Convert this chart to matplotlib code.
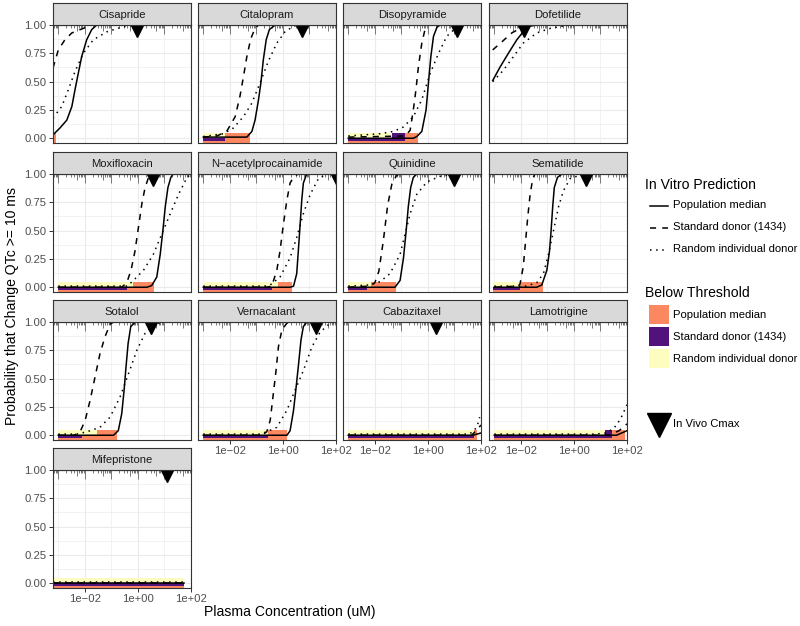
import numpy as np
import matplotlib
matplotlib.use("Agg")
import matplotlib.pyplot as plt
from matplotlib.patches import Rectangle
from matplotlib.lines import Line2D
from matplotlib.ticker import NullFormatter

plt.rcParams["font.family"] = ["Liberation Sans", "DejaVu Sans"]

# ---- data (log10 concentration in uM, probability) ----
drugs = ["Cisapride", "Citalopram", "Disopyramide", "Dofetilide",
         "Moxifloxacin", "N\u2212acetylprocainamide", "Quinidine", "Sematilide",
         "Sotalol", "Vernacalant", "Cabazitaxel", "Lamotrigine", "Mifepristone"]

cisapride_median = [(-3.2, 0.03), (-2.94, 0.09), (-2.68, 0.16), (-2.49, 0.28), (-2.37, 0.43), (-2.25, 0.57),
                    (-2.12, 0.72), (-1.93, 0.87), (-1.74, 0.96), (-1.55, 1.0), (2.0, 1.0)]
cisapride_standard = [(-3.2, 0.62), (-3.0, 0.78), (-2.75, 0.87), (-2.49, 0.93), (-2.06, 0.97), (-1.74, 1.0), (2.0, 1.0)]
cisapride_random = [(-3.2, 0.18), (-2.87, 0.28), (-2.62, 0.43), (-2.37, 0.59), (-2.06, 0.75), (-1.68, 0.87),
                    (-1.17, 0.94), (-0.55, 0.985), (-0.1, 1.0), (2.0, 1.0)]

citalopram_median = [(-3.0, 0.01), (-1.36, 0.01), (-1.17, 0.06), (-1.05, 0.16), (-0.92, 0.34), (-0.83, 0.49),
                     (-0.74, 0.69), (-0.63, 0.87), (-0.51, 0.96), (-0.29, 1.0), (2.0, 1.0)]
citalopram_standard = [(-3.0, 0.01), (-2.49, 0.02), (-2.12, 0.06), (-1.80, 0.19), (-1.62, 0.37), (-1.49, 0.54),
                       (-1.36, 0.72), (-1.21, 0.88), (-1.05, 0.97), (-0.92, 1.0), (2.0, 1.0)]
citalopram_random = [(-3.0, 0.015), (-2.24, 0.04), (-1.87, 0.09), (-1.49, 0.19), (-1.17, 0.31), (-0.86, 0.49),
                     (-0.55, 0.68), (-0.23, 0.84), (0.08, 0.94), (0.40, 0.99), (0.6, 1.0), (2.0, 1.0)]

disopyramide_median = [(-3.0, 0.0), (-0.55, 0.0), (-0.42, 0.015), (-0.23, 0.06), (-0.07, 0.25), (0.02, 0.49),
                       (0.11, 0.72), (0.21, 0.90), (0.34, 0.98), (0.46, 1.0), (2.0, 1.0)]
disopyramide_standard = [(-3.0, 0.01), (-0.86, 0.02), (-0.67, 0.07), (-0.55, 0.25), (-0.45, 0.43), (-0.36, 0.63),
                         (-0.23, 0.84), (-0.11, 0.96), (0.02, 1.0), (2.0, 1.0)]
disopyramide_random = [(-3.0, 0.02), (-1.8, 0.04), (-1.30, 0.06), (-0.92, 0.10), (-0.55, 0.19), (-0.23, 0.34),
                       (0.08, 0.57), (0.40, 0.75), (0.71, 0.90), (1.03, 0.97), (1.34, 1.0), (2.0, 1.0)]

dofetilide_median = [(-3.06, 0.51), (-2.78, 0.63), (-2.47, 0.75), (-2.15, 0.87), (-1.91, 0.94), (-1.65, 0.99),
                     (-1.4, 1.0), (2.0, 1.0)]
dofetilide_standard = [(-3.06, 0.78), (-2.72, 0.85), (-2.34, 0.93), (-2.03, 0.97), (-1.7, 1.0), (2.0, 1.0)]
dofetilide_random = [(-3.06, 0.50), (-2.66, 0.60), (-2.28, 0.72), (-1.91, 0.84), (-1.40, 0.93), (-0.90, 0.97),
                     (-0.27, 0.995), (0.3, 1.0), (2.0, 1.0)]

moxifloxacin_median = [(-3.0, 0.0), (0.34, 0.0), (0.52, 0.015), (0.71, 0.09), (0.84, 0.29), (0.94, 0.50),
                       (1.03, 0.71), (1.13, 0.88), (1.24, 0.97), (1.33, 1.0), (2.0, 1.0)]
moxifloxacin_standard = [(-3.0, 0.0), (-0.61, 0.0), (-0.42, 0.04), (-0.26, 0.15), (-0.11, 0.32), (0.02, 0.53),
                         (0.15, 0.74), (0.27, 0.88), (0.40, 0.97), (0.52, 1.0), (2.0, 1.0)]
moxifloxacin_random = [(-3.0, 0.01), (-0.4, 0.01), (-0.17, 0.06), (0.21, 0.15), (0.58, 0.29), (0.90, 0.47),
                       (1.22, 0.65), (1.53, 0.82), (1.85, 0.97), (2.0, 1.0)]

napa_median = [(-3.0, 0.0), (0.27, 0.0), (0.40, 0.01), (0.52, 0.12), (0.58, 0.32), (0.65, 0.56), (0.71, 0.77),
               (0.77, 0.92), (0.88, 0.99), (0.96, 1.0), (2.0, 1.0)]
napa_standard = [(-3.0, 0.0), (-0.6, 0.0), (-0.42, 0.01), (-0.23, 0.15), (-0.11, 0.32), (0.02, 0.56), (0.15, 0.77),
                 (0.27, 0.92), (0.42, 0.98), (0.58, 1.0), (2.0, 1.0)]
napa_random = [(-3.0, 0.01), (-0.7, 0.01), (-0.48, 0.02), (-0.11, 0.09), (0.27, 0.26), (0.52, 0.44), (0.77, 0.65),
               (1.03, 0.82), (1.34, 0.96), (1.66, 1.0), (2.0, 1.0)]

quinidine_median = [(-3.0, 0.0), (-1.24, 0.0), (-1.05, 0.06), (-0.92, 0.26), (-0.82, 0.50), (-0.74, 0.71),
                    (-0.65, 0.88), (-0.55, 0.97), (-0.42, 1.0), (2.0, 1.0)]
quinidine_standard = [(-3.0, 0.0), (-2.2, 0.01), (-2.0, 0.04), (-1.85, 0.14), (-1.68, 0.41), (-1.52, 0.72),
                      (-1.36, 0.91), (-1.2, 0.98), (-1.1, 1.0), (2.0, 1.0)]
quinidine_random = [(-3.0, 0.01), (-2.2, 0.02), (-1.80, 0.05), (-1.43, 0.12), (-1.05, 0.29), (-0.86, 0.47),
                    (-0.67, 0.65), (-0.42, 0.82), (-0.04, 0.93), (0.46, 0.98), (1.1, 1.0), (2.0, 1.0)]

sematilide_median = [(-3.0, 0.0), (-1.4, 0.0), (-1.21, 0.02), (-1.02, 0.15), (-0.92, 0.32), (-0.86, 0.50),
                     (-0.80, 0.71), (-0.74, 0.88), (-0.62, 0.97), (-0.45, 1.0), (2.0, 1.0)]
sematilide_standard = [(-3.0, 0.0), (-2.1, 0.01), (-2.03, 0.03), (-1.91, 0.18), (-1.82, 0.41), (-1.74, 0.62),
                       (-1.65, 0.82), (-1.55, 0.96), (-1.47, 1.0), (2.0, 1.0)]
sematilide_random = [(-3.0, 0.01), (-1.8, 0.01), (-1.40, 0.04), (-1.15, 0.12), (-0.96, 0.29), (-0.77, 0.50),
                     (-0.58, 0.71), (-0.40, 0.85), (-0.14, 0.96), (0.23, 0.99), (0.7, 1.0), (2.0, 1.0)]

sotalol_median = [(-3.0, 0.0), (-0.92, 0.0), (-0.74, 0.04), (-0.61, 0.19), (-0.52, 0.40), (-0.45, 0.60),
                  (-0.37, 0.81), (-0.27, 0.96), (-0.1, 1.0), (2.0, 1.0)]
sotalol_standard = [(-3.0, 0.0), (-2.4, 0.0), (-2.18, 0.03), (-1.99, 0.13), (-1.80, 0.31), (-1.62, 0.51),
                    (-1.43, 0.72), (-1.24, 0.87), (-1.05, 0.98), (-0.92, 1.0), (2.0, 1.0)]
sotalol_random = [(-3.0, 0.01), (-2.3, 0.01), (-1.93, 0.03), (-1.43, 0.07), (-1.05, 0.16), (-0.67, 0.34),
                  (-0.36, 0.54), (-0.04, 0.75), (0.27, 0.90), (0.59, 0.98), (1.0, 1.0), (2.0, 1.0)]

vernacalant_median = [(-3.0, 0.0), (0.15, 0.0), (0.27, 0.04), (0.40, 0.22), (0.50, 0.43), (0.59, 0.63),
                      (0.68, 0.84), (0.77, 0.96), (0.9, 1.0), (2.0, 1.0)]
vernacalant_standard = [(-3.0, 0.0), (-0.8, 0.0), (-0.61, 0.03), (-0.48, 0.13), (-0.36, 0.37), (-0.26, 0.57),
                        (-0.17, 0.78), (-0.04, 0.93), (0.15, 0.99), (0.3, 1.0), (2.0, 1.0)]
vernacalant_random = [(-3.0, 0.01), (-0.9, 0.01), (-0.61, 0.03), (-0.23, 0.07), (0.15, 0.22), (0.46, 0.40),
                      (0.77, 0.57), (1.09, 0.78), (1.40, 0.91), (1.78, 0.99), (2.0, 1.0)]

cabazitaxel_median = [(-3.0, 0.0), (1.7, 0.0), (2.0, 0.02)]
cabazitaxel_standard = [(-3.0, 0.0), (1.65, 0.0), (1.85, 0.05), (2.0, 0.09)]
cabazitaxel_random = [(-3.0, 0.01), (1.55, 0.01), (1.75, 0.04), (1.88, 0.10), (1.95, 0.16)]

lamotrigine_median = [(-3.0, 0.0), (1.6, 0.0), (2.0, 0.04)]
lamotrigine_standard = [(-3.0, 0.0), (1.3, 0.0), (1.7, 0.04), (2.0, 0.10)]
lamotrigine_random = [(-3.0, 0.01), (0.8, 0.01), (1.2, 0.02), (1.5, 0.06), (1.75, 0.14), (2.0, 0.27)]

mifepristone_median = [(-3.2, 0.0), (1.75, 0.0)]
mifepristone_standard = [(-3.2, 0.0), (1.75, 0.0)]
mifepristone_random = [(-3.2, 0.01), (1.75, 0.01)]

curves_median = [cisapride_median, citalopram_median, disopyramide_median, dofetilide_median,
                 moxifloxacin_median, napa_median, quinidine_median, sematilide_median,
                 sotalol_median, vernacalant_median, cabazitaxel_median, lamotrigine_median, mifepristone_median]
curves_standard = [cisapride_standard, citalopram_standard, disopyramide_standard, dofetilide_standard,
                   moxifloxacin_standard, napa_standard, quinidine_standard, sematilide_standard,
                   sotalol_standard, vernacalant_standard, cabazitaxel_standard, lamotrigine_standard,
                   mifepristone_standard]
curves_random = [cisapride_random, citalopram_random, disopyramide_random, dofetilide_random,
                 moxifloxacin_random, napa_random, quinidine_random, sematilide_random,
                 sotalol_random, vernacalant_random, cabazitaxel_random, lamotrigine_random, mifepristone_random]

# below-threshold ranges (log10 uM); None = no bar
threshold_start = [-3.2, -3.0, -3.0, None, -3.0, -3.0, -3.0, -3.04, -3.0, -3.0, -3.0, -3.0, -3.2]
threshold_median_end = [-3.1, -1.24, -0.36, None, 0.61, 0.34, -1.2, -1.15, -0.8, 0.17, 1.85, 1.93, 1.75]
threshold_standard_end = [None, -2.2, -0.86, None, -0.42, -0.42, -2.3, -2.03, -2.12, -0.55, 1.72, 1.44, 1.75]
threshold_random_end = [None, -2.18, -1.36, None, -0.17, -0.17, -2.15, -2.03, -1.55, -0.55, 1.72, 1.18, 1.75]

# in vivo Cmax (log10 uM)
cmax_log = [-0.04, 0.72, 1.1, -1.88, 0.58, 2.05, 0.99, 0.46, 0.5, 1.25, 0.31, None, 1.1]

# ---- style ----
col_median, col_standard, col_random = "#FB8861", "#51127C", "#FCFDBF"
bar_y = {"median": (-0.05, 0.05), "standard": (-0.025, 0.05), "random": (0.005, 0.05)}
line_styles = ["-", (0, (4, 4)), (0, (1, 3))]
fs_text, fs_title = 8.1, 10.1

W, H = 800, 626
DPI = 100
fig = plt.figure(figsize=(W / DPI, H / DPI), dpi=DPI)

col_left = [53, 198, 343, 489]
row_top = [25, 174, 322, 470]
panel_w, panel_h, strip_h = 138, 118, 22


def px_axes(left, top, width, height):
    return fig.add_axes([left / W, 1 - (top + height) / H, width / W, height / H])


bottom_panels = [9, 10, 11, 12]
decades = range(-4, 3)

for i, drug in enumerate(drugs):
    r, c = divmod(i, 4)
    ax = px_axes(col_left[c], row_top[r], panel_w, panel_h)
    ax.set_xscale("log")
    ax.set_xlim(10 ** -3.2, 10 ** 2.0)
    ax.set_ylim(-0.042, 1.0)
    ax.set_xticks([1e-2, 1, 1e2])
    ax.set_xticks([1e-3, 1e-1, 1e1], minor=True)
    ax.xaxis.set_minor_formatter(NullFormatter())
    ax.set_yticks([0, 0.25, 0.5, 0.75, 1.0])
    ax.set_yticks([0.125, 0.375, 0.625, 0.875], minor=True)
    ax.grid(which="major", color="#EBEBEB", lw=0.8)
    ax.grid(which="minor", color="#EBEBEB", lw=0.45)
    ax.set_axisbelow(True)
    ax.tick_params(which="minor", length=0)
    ax.tick_params(which="major", length=2.75, width=0.7, color="#333333", labelcolor="#4D4D4D",
                   labelsize=fs_text, pad=1.8)
    if i in bottom_panels:
        ax.set_xticklabels(["1e\u221202", "1e+00", "1e+02"])
    else:
        ax.tick_params(axis="x", which="major", length=0, labelbottom=False)
    if c == 0:
        ax.set_yticklabels(["0.00", "0.25", "0.50", "0.75", "1.00"])
    else:
        ax.tick_params(axis="y", which="major", length=0, labelleft=False)
    for sp in ax.spines.values():
        sp.set_color("#333333")
        sp.set_linewidth(0.8)
        sp.set_zorder(5)

    # below-threshold bars
    start = threshold_start[i]
    for key, ends, colr in [("median", threshold_median_end, col_median),
                            ("standard", threshold_standard_end, col_standard),
                            ("random", threshold_random_end, col_random)]:
        end = ends[i]
        if start is None or end is None:
            continue
        y0, y1 = bar_y[key]
        ax.add_patch(Rectangle((10 ** start, y0), 10 ** end - 10 ** start, y1 - y0,
                               facecolor=colr, edgecolor="none", zorder=1.5))

    # log ticks along the top
    trans = ax.get_xaxis_transform()
    for d in decades:
        for k in range(1, 10):
            ln = 9 if k == 1 else (6 if k == 5 else 3.2)
            ax.vlines(k * 10.0 ** d, 1 - ln / panel_h, 1, transform=trans, color="#777777", lw=0.7, zorder=3)

    # prediction curves
    for pts, ls in zip([curves_median[i], curves_standard[i], curves_random[i]], line_styles):
        xs = np.power(10.0, [p[0] for p in pts])
        ys = [p[1] for p in pts]
        ax.plot(xs, ys, color="black", lw=1.1, linestyle=ls, zorder=4)

    if cmax_log[i] is not None:
        ax.plot([10 ** cmax_log[i]], [0.945], marker="v", ms=8.8, color="black", lw=0, zorder=4.5)

    # strip
    sax = px_axes(col_left[c], row_top[r] - strip_h, panel_w, strip_h)
    sax.set_facecolor("#D9D9D9")
    sax.set_xticks([])
    sax.set_yticks([])
    for sp in sax.spines.values():
        sp.set_color("#333333")
        sp.set_linewidth(0.8)
    sax.text(0.5, 0.46, drug, ha="center", va="center", fontsize=fs_text, color="#1A1A1A",
             transform=sax.transAxes)

# axis titles
fig.text(290 / W, 1 - 612 / H, "Plasma Concentration (uM)", ha="center", va="center", fontsize=fs_title)
fig.text(12 / W, 1 - 306 / H, "Probability that Change QTc >= 10 ms", ha="center", va="center",
         rotation=90, fontsize=fs_title)

# legend drawn in pixel coordinates
lax = fig.add_axes([0, 0, 1, 1])
lax.set_xlim(0, W)
lax.set_ylim(H, 0)
lax.axis("off")
lax.text(645, 185, "In Vitro Prediction", fontsize=fs_title, va="center", ha="left")
for yy, ls, lab in zip([205.5, 227.5, 249.5], line_styles,
                       ["Population median", "Standard donor (1434)", "Random individual donor"]):
    lax.add_line(Line2D([650, 668], [yy, yy], color="black", lw=1.1, linestyle=ls))
    lax.text(673, yy, lab, fontsize=fs_text, va="center", ha="left")

lax.text(645, 293, "Below Threshold", fontsize=fs_title, va="center", ha="left")
for y0, colr, lab in zip([304.5, 326.5, 348.5], [col_median, col_standard, col_random],
                         ["Population median", "Standard donor (1434)", "Random individual donor"]):
    lax.add_patch(Rectangle((649, y0), 20, 19.5, facecolor=colr, edgecolor="none"))
    lax.text(673, y0 + 10, lab, fontsize=fs_text, va="center", ha="left")

lax.plot([658.5], [425], marker="v", ms=17, color="black", lw=0)
lax.text(673, 424, "In Vivo Cmax", fontsize=fs_text, va="center", ha="left")

fig.savefig("out.png", dpi=DPI)
